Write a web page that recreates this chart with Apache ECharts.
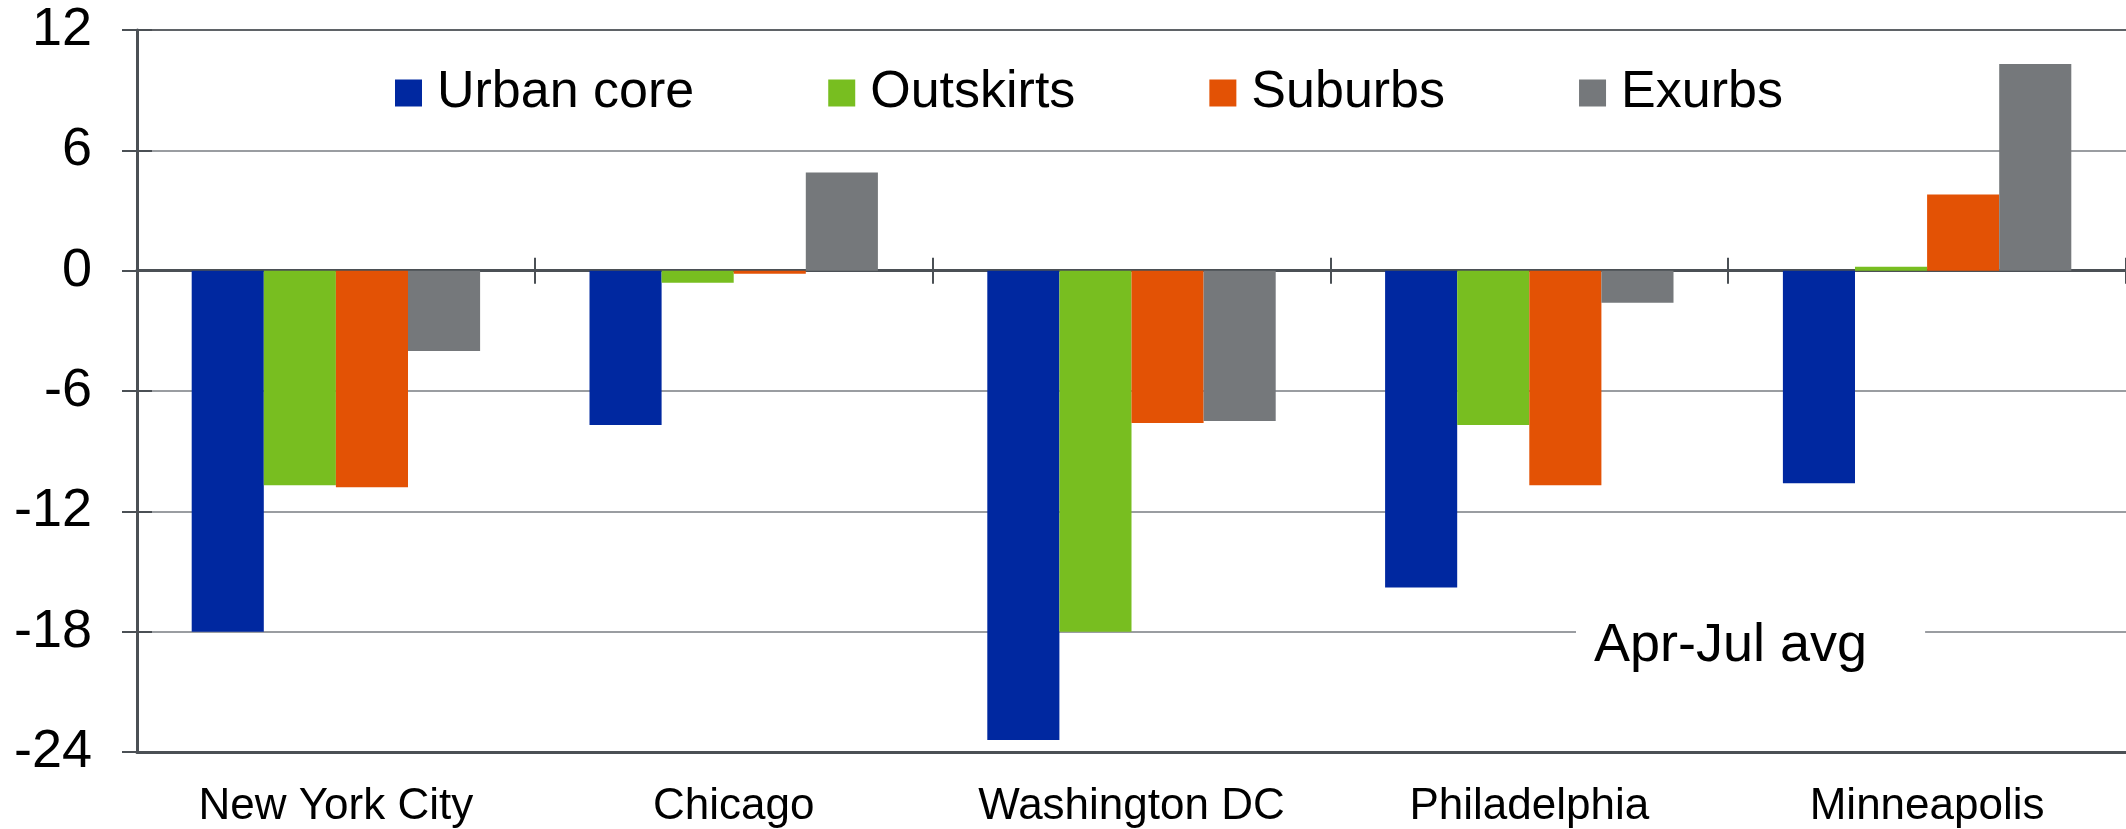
<!DOCTYPE html>
<html>
<head>
<meta charset="utf-8">
<title>Change by city and area</title>
<script src="https://cdn.jsdelivr.net/npm/echarts@6/dist/echarts.min.js"></script>
<style>
  html, body { margin: 0; padding: 0; background: #fff; }
  #chart { width: 2126px; height: 829px; }
</style>
</head>
<body>
<div id="chart"></div>
<script>
const cities = ['New York City', 'Chicago', 'Washington DC', 'Philadelphia', 'Minneapolis']
const seriesNames = ['Urban core', 'Outskirts', 'Suburbs', 'Exurbs']
const urbanCore = [-18.0, -7.7, -23.4, -15.8, -10.6]
const outskirts = [-10.7, -0.6, -18.0, -7.7, 0.2]
const suburbs = [-10.8, -0.15, -7.6, -10.7, 3.8]
const exurbs = [-4.0, 4.9, -7.5, -1.6, 10.3]
const yTicks = [-24, -18, -12, -6, 0, 6, 12]
const noteText = 'Apr-Jul avg'

const colors = ['#0028a0', '#78be20', '#e35205', '#75787b']
const font = '"Liberation Sans", Arial, sans-serif'
const axisDark = '#4b5055'
const gridGray = '#9a9da1'

const chart = echarts.init(document.getElementById('chart'))

const catAxis = (extra) => Object.assign({
  type: 'category',
  data: cities,
  position: 'bottom',
  axisLabel: { show: false },
  axisTick: { show: false },
  splitLine: { show: false },
}, extra)

const option = {
  animation: false,
  textStyle: { fontFamily: font },
  color: colors,
  grid: { left: 137, right: 0, top: 30, bottom: 76 },
  title: {
    text: noteText,
    left: 1576,
    top: 619,
    padding: [0, 58, 0, 18],
    backgroundColor: '#fff',
    textStyle: { fontFamily: font, fontSize: 54, fontWeight: 'normal', color: '#000', lineHeight: 54 },
  },
  legend: {
    data: seriesNames,
    left: 395,
    top: 67,
    padding: 0,
    icon: 'rect',
    itemWidth: 27,
    itemHeight: 27,
    itemGap: 134,
    textStyle: { fontFamily: font, fontSize: 52, color: '#000', lineHeight: 52, padding: [0, 0, 0, 10] },
  },
  xAxis: [
    catAxis({
      axisLine: { onZero: false, lineStyle: { color: axisDark, width: 3 } },
      axisLabel: { show: true, interval: 0, fontFamily: font, fontSize: 44, lineHeight: 44, color: '#000', margin: 33 },
    }),
    catAxis({
      axisLine: { onZero: true, lineStyle: { color: axisDark, width: 3 } },
      axisTick: { show: true, length: 13, lineStyle: { color: axisDark, width: 2 } },
    }),
    catAxis({
      axisLine: { onZero: true, lineStyle: { color: axisDark, width: 3 } },
      axisTick: { show: true, inside: true, length: 13, lineStyle: { color: axisDark, width: 2 } },
    }),
    // top border of the plot at 12
    catAxis({
      position: 'top',
      axisLine: { onZero: false, lineStyle: { color: '#5f6367', width: 2 } },
    }),
  ],
  yAxis: [
    {
      type: 'value',
      min: yTicks[0],
      max: yTicks[yTicks.length - 1],
      interval: 6,
      axisLine: { show: true, lineStyle: { color: axisDark, width: 3 } },
      axisTick: { show: true, length: 15, lineStyle: { color: axisDark, width: 2 } },
      axisLabel: { fontFamily: font, fontSize: 54, color: '#000', margin: 45 },
      splitLine: { lineStyle: { width: 2, color: gridGray } },
    },
    {
      type: 'value',
      position: 'left',
      min: yTicks[0],
      max: yTicks[yTicks.length - 1],
      interval: 6,
      axisLine: { show: false },
      axisTick: { show: true, inside: true, length: 15, lineStyle: { color: axisDark, width: 2 } },
      axisLabel: { show: false },
      splitLine: { show: false },
    },
  ],
  series: [urbanCore, outskirts, suburbs, exurbs].map((vals, i) => ({
    name: seriesNames[i],
    type: 'bar',
    xAxisIndex: 0,
    yAxisIndex: 0,
    data: vals,
    barGap: '0%',
    barCategoryGap: '27.5%',
    itemStyle: { color: colors[i] },
  })),
}

chart.setOption(option)
</script>
</body>
</html>
